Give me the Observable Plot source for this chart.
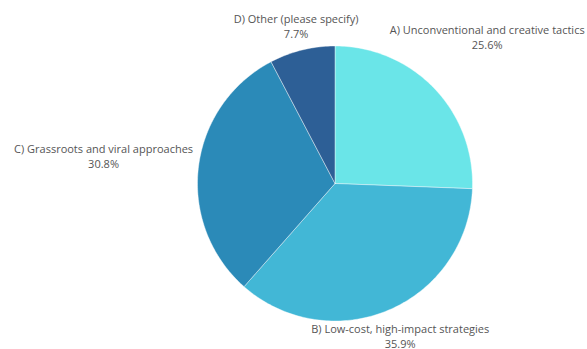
<!DOCTYPE html>
<html>
<head>
<meta charset="utf-8">
<script src="https://cdn.jsdelivr.net/npm/d3@7"></script>
<script src="https://cdn.jsdelivr.net/npm/@observablehq/plot@0.6"></script>
<style>
  html, body { margin: 0; padding: 0; background: #fff; }
  #chart svg { display: block; }
</style>
</head>
<body>
<div id="chart"></div>
<script>
// ---- data ----
const categories = [
  "A) Unconventional and creative tactics",
  "B) Low-cost, high-impact strategies",
  "C) Grassroots and viral approaches",
  "D) Other (please specify)"
];
const shares = [25.6, 35.9, 30.8, 7.7];
const pctLabels = ["25.6%", "35.9%", "30.8%", "7.7%"];

// ---- style / layout ----
const colors = ["#6ae5e8", "#42b7d6", "#2b8ab8", "#2d5f96"];
const W = 587, H = 349;
const CX = 334.5, CY = 183, R = 137.5;
const FONT_SIZE = 11, FONT_FAMILY = "'Open Sans', sans-serif", LINE_H = 1.35;
const GAP = 5;
const BOX_TOP = 9.5, BOX_BOTTOM = 15; // label box extent above/below its centre

const total = d3.sum(shares);
let acc = 0;
const slices = categories.map((c, i) => {
  const a0 = acc / total * 2 * Math.PI;
  acc += shares[i];
  const a1 = acc / total * 2 * Math.PI;
  return {key: c, a0, a1, mid: (a0 + a1) / 2, pct: pctLabels[i]};
});

// polygon points for each slice (unit radius, y down, angle clockwise from top)
const pts = [];
for (const s of slices) {
  pts.push({key: s.key, x: 0, y: 0});
  const n = Math.max(2, Math.ceil((s.a1 - s.a0) / (Math.PI / 180)));
  for (let k = 0; k <= n; k++) {
    const a = s.a0 + (s.a1 - s.a0) * k / n;
    pts.push({key: s.key, x: Math.sin(a), y: -Math.cos(a)});
  }
  pts.push({key: s.key, x: 0, y: 0});
}

// label placement: box centered along mid-angle, just clearing the circle
const ctx = document.createElement("canvas").getContext("2d");
ctx.font = `${FONT_SIZE}px ${FONT_FAMILY}`;
const labels = slices.map(s => {
  const w = Math.max(ctx.measureText(s.key).width, ctx.measureText(s.pct).width);
  const hw = w / 2;
  const ux = Math.sin(s.mid), uy = -Math.cos(s.mid);
  const clamp = (v, lo, hi) => Math.max(lo, Math.min(hi, v));
  const distAt = d => {
    const cx = d * ux, cy = d * uy;
    const px = clamp(0, cx - hw, cx + hw), py = clamp(0, cy - BOX_TOP, cy + BOX_BOTTOM);
    return Math.hypot(px, py);
  };
  let lo = 0, hi = 600;
  for (let it = 0; it < 60; it++) {
    const m = (lo + hi) / 2;
    if (distAt(m) < R + GAP) lo = m; else hi = m;
  }
  return {text: s.key + "\n" + s.pct, x: lo * ux / R, y: lo * uy / R};
});

const chart = Plot.plot({
  width: W,
  height: H,
  margin: 0,
  x: {domain: [-CX / R, (W - CX) / R], range: [0, W], axis: null},
  y: {domain: [-CY / R, (H - CY) / R], range: [0, H], axis: null},
  color: {domain: categories, range: colors},
  style: {fontFamily: FONT_FAMILY, fontSize: FONT_SIZE + "px", background: "#fff"},
  marks: [
    Plot.line(pts, {x: "x", y: "y", z: "key", fill: "key", stroke: "#ffffff", strokeOpacity: 0.5, strokeWidth: 0.8, curve: "linear"}),
    Plot.text(labels, {x: "x", y: "y", text: "text", textAnchor: "middle", lineAnchor: "middle", lineHeight: LINE_H, fill: "#555555", fontSize: FONT_SIZE})
  ]
});
document.getElementById("chart").appendChild(chart);
</script>
</body>
</html>
